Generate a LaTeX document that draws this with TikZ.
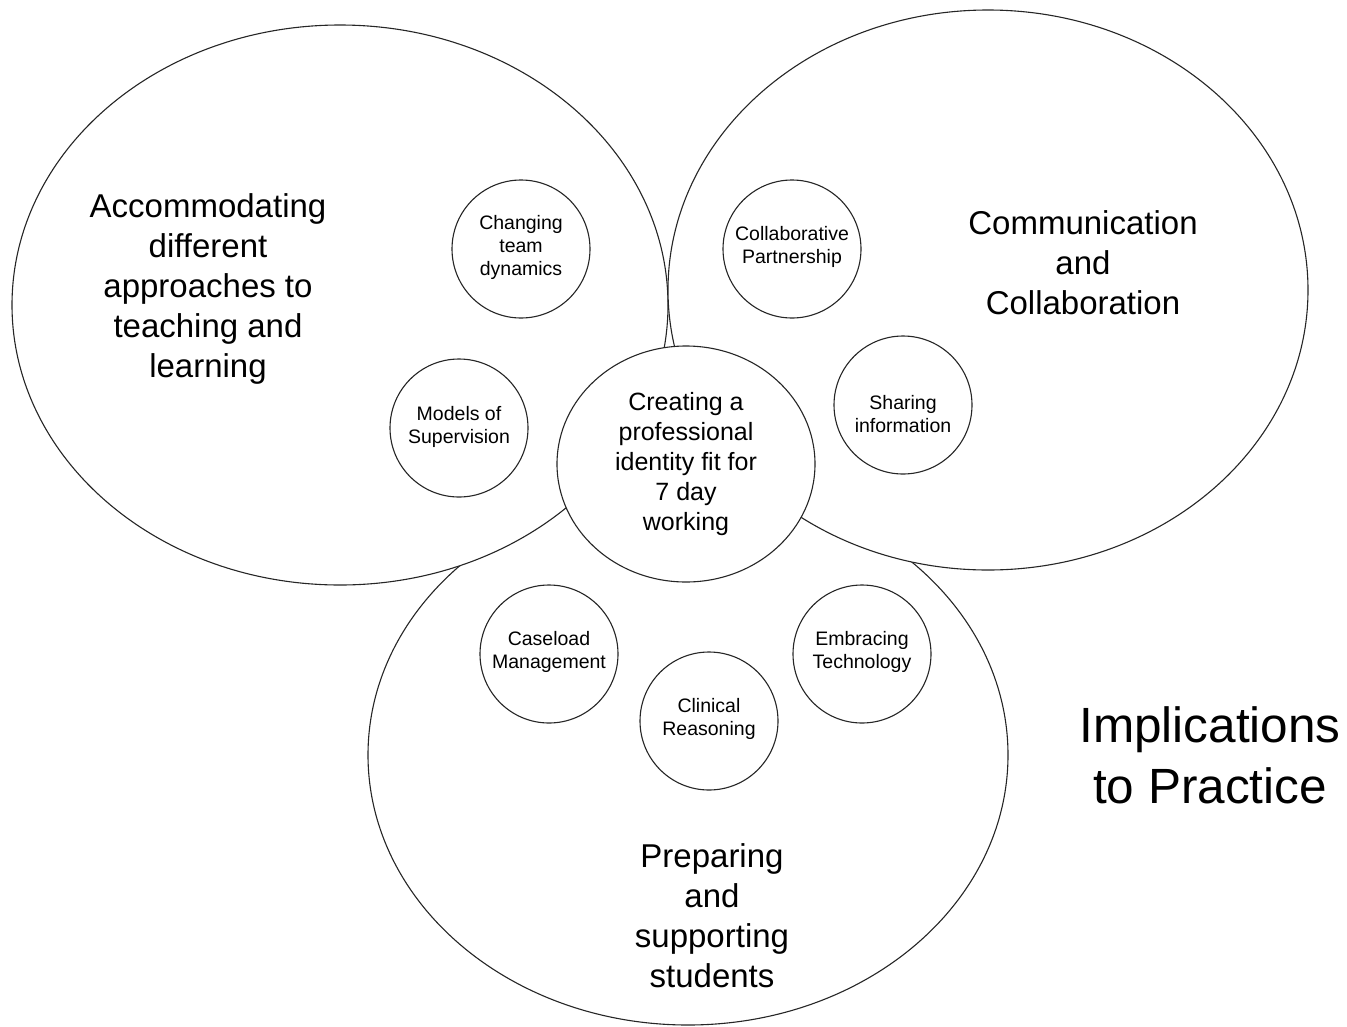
\documentclass[tikz,border=0pt]{standalone}
\usepackage{fontspec}
\setmainfont{Liberation Sans}
\usetikzlibrary{shapes.geometric}
\begin{document}
\begin{tikzpicture}[x=1pt,y=-1pt,
  bigell/.style={draw=black!85, line width=1.1pt, fill=white, ellipse, inner sep=0pt},
  smallc/.style={draw=black!85, line width=1.1pt, fill=white, ellipse, inner sep=0pt,
    minimum width=138pt, minimum height=138pt},
  smalltext/.style={align=center, inner sep=0pt, font=\fontsize{19.5}{23}\selectfont},
  bigtext/.style={align=center, font=\fontsize{33}{40}\selectfont, inner sep=0pt},
]
\useasboundingbox (0,0) rectangle (1347,1026);
% big ellipses
\node[bigell, minimum width=640pt, minimum height=540pt] (bottom) at (688,755) {};
\node[bigell, minimum width=656pt, minimum height=560pt] (left) at (340,305) {};
\node[bigell, minimum width=640pt, minimum height=560pt] (right) at (988,290) {};
% central
\node[bigell, minimum width=258pt, minimum height=236pt] (centre) at (686,464) {};
\node[align=center, inner sep=0pt, font=\fontsize{25}{30.2}\selectfont] (centretext) at (686,464) {Creating a\\professional\\identity fit for\\7 day\\working};
% small circles
\node[smallc] (ctd) at (521,249) {};
\node[smalltext] (ctdt) at (521,247) {Changing\\team\\dynamics};
\node[smallc] (mos) at (459,428) {};
\node[smalltext] (most) at (459,427) {Models of\\Supervision};
\node[smallc] (cp) at (792,249) {};
\node[smalltext] (cpt) at (792,247) {Collaborative\\Partnership};
\node[smallc] (si) at (903,405) {};
\node[smalltext] (sit) at (903,414) {Sharing\\information};
\node[smallc] (cm) at (549,654) {};
\node[smalltext] (cmt) at (549,652) {Caseload\\Management};
\node[smallc] (cr) at (709,721) {};
\node[smalltext] (crt) at (709,719) {Clinical\\Reasoning};
\node[smallc] (et) at (862,654) {};
\node[smalltext] (ett) at (862,652) {Embracing\\Technology};
% big labels
\node[bigtext] (tl) at (208,289) {Accommodating\\different\\approaches to\\teaching and\\learning};
\node[bigtext] (tr) at (1083,263) {Communication\\and\\Collaboration};
\node[bigtext] (tb) at (712,916) {Preparing\\and\\supporting\\students};
\node[align=center, inner sep=0pt, font=\fontsize{49.5}{61}\selectfont] (impl) at (1210,755) {Implications\\to Practice};
\end{tikzpicture}
\end{document}
